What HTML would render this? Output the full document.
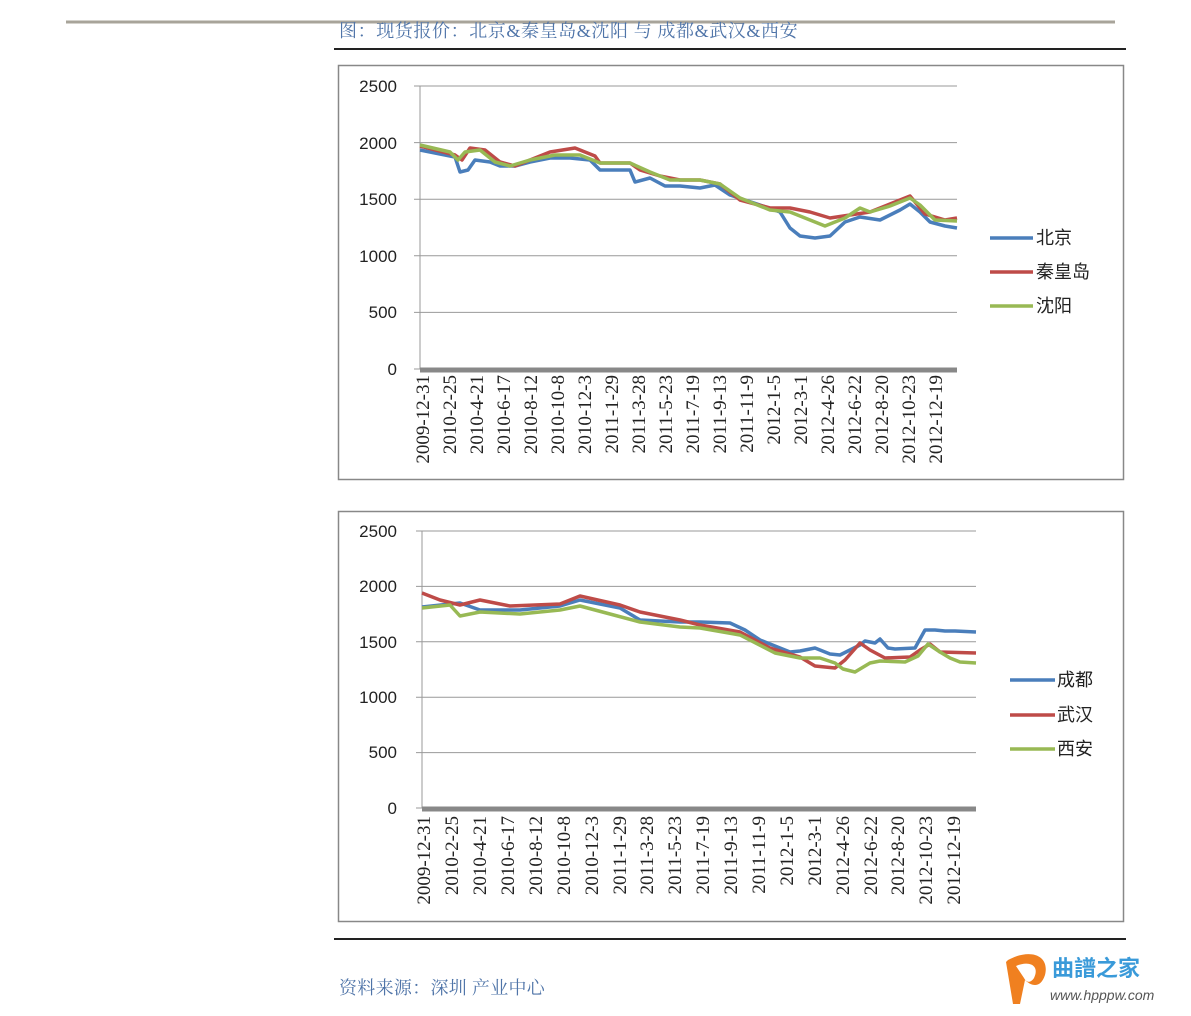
<!DOCTYPE html>
<html><head><meta charset="utf-8"><style>
html,body{margin:0;padding:0;background:#fff;}
body{width:1191px;height:1016px;position:relative;overflow:hidden;}
svg{position:absolute;left:0;top:0;}
</style></head><body>
<svg width="1191" height="1016" viewBox="0 0 1191 1016" xmlns="http://www.w3.org/2000/svg">
<!-- header -->
<line x1="66" y1="22" x2="1115" y2="22" stroke="#a8a49a" stroke-width="3"/>
<text x="339" y="37" font-family="Liberation Serif,'Noto Serif CJK SC',serif" font-size="18" letter-spacing="0.6" fill="#4f74a8">图：现货报价：北京&amp;秦皇岛&amp;沈阳  与  成都&amp;武汉&amp;西安</text>
<line x1="334" y1="49" x2="1126" y2="49" stroke="#222" stroke-width="2"/>

<!-- chart 1 -->
<rect x="338.5" y="65.5" width="785" height="414" fill="#fff" stroke="#888" stroke-width="1.5"/>
<g stroke="#999" stroke-width="1">
<line x1="414" y1="86" x2="957" y2="86"/><line x1="414" y1="142.6" x2="957" y2="142.6"/>
<line x1="414" y1="199.2" x2="957" y2="199.2"/><line x1="414" y1="255.8" x2="957" y2="255.8"/>
<line x1="414" y1="312.4" x2="957" y2="312.4"/><line x1="414" y1="369" x2="420" y2="369"/>
<line x1="420" y1="86" x2="420" y2="369"/>
</g>
<line x1="420" y1="370" x2="957" y2="370" stroke="#888" stroke-width="5"/>
<g font-family="Liberation Sans,sans-serif" font-size="17" fill="#222" text-anchor="end">
<text x="397" y="92">2500</text><text x="397" y="149">2000</text><text x="397" y="205">1500</text>
<text x="397" y="262">1000</text><text x="397" y="318">500</text><text x="397" y="375">0</text>
</g>
<g fill="none" stroke-width="3.5" stroke-linejoin="round">
<polyline stroke="#4a7ebb" points="420,150 455,157 460,172 468,170 475,160 490,162 500,166 515,166 530,162 550,158 570,158 590,160 600,170 630,170 635,182 650,178 665,186 680,186 700,188 715,185 730,195 760,205 780,212 790,228 800,236 815,238 830,236 845,222 860,217 880,220 900,210 910,204 920,212 930,222 945,226 957,228"/>
<polyline stroke="#be4b48" points="420,146 455,155 462,160 470,148 485,150 500,162 515,166 530,160 550,152 575,148 595,156 600,163 630,163 640,170 660,176 680,180 700,180 720,184 740,200 770,208 790,208 810,212 830,218 850,215 870,212 890,204 910,196 925,214 945,220 957,218"/>
<polyline stroke="#98b954" points="420,145 450,152 458,160 465,152 480,150 495,162 510,166 530,160 555,155 580,155 600,163 630,163 650,172 670,180 700,180 720,184 740,198 770,210 790,212 810,220 825,226 845,218 860,208 870,212 890,206 910,198 920,205 935,220 957,221"/>
</g>
<g stroke-width="3.5">
<line x1="990" y1="238" x2="1033" y2="238" stroke="#4a7ebb"/>
<line x1="990" y1="272" x2="1033" y2="272" stroke="#be4b48"/>
<line x1="990" y1="306" x2="1033" y2="306" stroke="#98b954"/>
</g>
<g font-family="Liberation Sans,'Noto Sans CJK SC',sans-serif" font-size="18" fill="#222">
<text x="1036" y="244">北京</text><text x="1036" y="278">秦皇岛</text><text x="1036" y="312">沈阳</text>
</g>
<g font-family="Liberation Serif,serif" font-size="19" fill="#222" text-anchor="end">
<text transform="translate(429,375) rotate(-90)">2009-12-31</text>
<text transform="translate(456,375) rotate(-90)">2010-2-25</text>
<text transform="translate(483,375) rotate(-90)">2010-4-21</text>
<text transform="translate(510,375) rotate(-90)">2010-6-17</text>
<text transform="translate(537,375) rotate(-90)">2010-8-12</text>
<text transform="translate(564,375) rotate(-90)">2010-10-8</text>
<text transform="translate(591,375) rotate(-90)">2010-12-3</text>
<text transform="translate(618,375) rotate(-90)">2011-1-29</text>
<text transform="translate(645,375) rotate(-90)">2011-3-28</text>
<text transform="translate(672,375) rotate(-90)">2011-5-23</text>
<text transform="translate(699,375) rotate(-90)">2011-7-19</text>
<text transform="translate(726,375) rotate(-90)">2011-9-13</text>
<text transform="translate(753,375) rotate(-90)">2011-11-9</text>
<text transform="translate(780,375) rotate(-90)">2012-1-5</text>
<text transform="translate(807,375) rotate(-90)">2012-3-1</text>
<text transform="translate(834,375) rotate(-90)">2012-4-26</text>
<text transform="translate(861,375) rotate(-90)">2012-6-22</text>
<text transform="translate(888,375) rotate(-90)">2012-8-20</text>
<text transform="translate(915,375) rotate(-90)">2012-10-23</text>
<text transform="translate(942,375) rotate(-90)">2012-12-19</text>
</g>

<!-- chart 2 -->
<rect x="338.5" y="511.5" width="785" height="410" fill="#fff" stroke="#888" stroke-width="1.5"/>
<g stroke="#999" stroke-width="1">
<line x1="416" y1="531" x2="976" y2="531"/><line x1="416" y1="586.4" x2="976" y2="586.4"/>
<line x1="416" y1="641.8" x2="976" y2="641.8"/><line x1="416" y1="697.2" x2="976" y2="697.2"/>
<line x1="416" y1="752.6" x2="976" y2="752.6"/><line x1="416" y1="808" x2="422" y2="808"/>
<line x1="422" y1="531" x2="422" y2="808"/>
</g>
<line x1="422" y1="809" x2="976" y2="809" stroke="#888" stroke-width="5"/>
<g font-family="Liberation Sans,sans-serif" font-size="17" fill="#222" text-anchor="end">
<text x="397" y="537">2500</text><text x="397" y="592">2000</text><text x="397" y="648">1500</text>
<text x="397" y="703">1000</text><text x="397" y="758">500</text><text x="397" y="814">0</text>
</g>
<g fill="none" stroke-width="3.5" stroke-linejoin="round">
<polyline stroke="#4a7ebb" points="422,607 460,603 480,610 520,610 560,606 580,600 620,608 640,620 680,622 700,622 730,623 745,630 760,640 765,642 790,652 800,651 815,648 830,654 840,655 860,645 865,641 875,643 880,639 888,648 895,649 915,648 925,630 935,630 945,631 955,631 976,632"/>
<polyline stroke="#be4b48" points="422,593 440,600 460,605 480,600 510,606 560,604 580,596 620,605 640,612 680,620 700,625 740,632 770,648 800,657 815,666 835,668 845,660 860,643 870,650 885,658 910,657 920,650 930,644 940,652 976,653"/>
<polyline stroke="#98b954" points="422,608 450,605 460,616 480,612 520,614 560,610 580,606 610,614 640,622 680,627 700,628 740,635 775,653 800,658 820,658 835,663 843,669 855,672 870,663 880,661 905,662 918,656 928,644 940,652 950,658 960,662 976,663"/>
</g>
<g stroke-width="3.5">
<line x1="1010" y1="680" x2="1055" y2="680" stroke="#4a7ebb"/>
<line x1="1010" y1="715" x2="1055" y2="715" stroke="#be4b48"/>
<line x1="1010" y1="749" x2="1055" y2="749" stroke="#98b954"/>
</g>
<g font-family="Liberation Sans,'Noto Sans CJK SC',sans-serif" font-size="18" fill="#222">
<text x="1057" y="686">成都</text><text x="1057" y="721">武汉</text><text x="1057" y="755">西安</text>
</g>
<g font-family="Liberation Serif,serif" font-size="19" fill="#222" text-anchor="end">
<text transform="translate(430,816) rotate(-90)">2009-12-31</text>
<text transform="translate(458,816) rotate(-90)">2010-2-25</text>
<text transform="translate(486,816) rotate(-90)">2010-4-21</text>
<text transform="translate(514,816) rotate(-90)">2010-6-17</text>
<text transform="translate(542,816) rotate(-90)">2010-8-12</text>
<text transform="translate(570,816) rotate(-90)">2010-10-8</text>
<text transform="translate(598,816) rotate(-90)">2010-12-3</text>
<text transform="translate(626,816) rotate(-90)">2011-1-29</text>
<text transform="translate(653,816) rotate(-90)">2011-3-28</text>
<text transform="translate(681,816) rotate(-90)">2011-5-23</text>
<text transform="translate(709,816) rotate(-90)">2011-7-19</text>
<text transform="translate(737,816) rotate(-90)">2011-9-13</text>
<text transform="translate(765,816) rotate(-90)">2011-11-9</text>
<text transform="translate(793,816) rotate(-90)">2012-1-5</text>
<text transform="translate(821,816) rotate(-90)">2012-3-1</text>
<text transform="translate(849,816) rotate(-90)">2012-4-26</text>
<text transform="translate(877,816) rotate(-90)">2012-6-22</text>
<text transform="translate(904,816) rotate(-90)">2012-8-20</text>
<text transform="translate(932,816) rotate(-90)">2012-10-23</text>
<text transform="translate(960,816) rotate(-90)">2012-12-19</text>
</g>

<!-- footer -->
<line x1="334" y1="939" x2="1126" y2="939" stroke="#222" stroke-width="2"/>
<text x="339" y="994" font-family="Liberation Serif,'Noto Serif CJK SC',serif" font-size="18" letter-spacing="0.3" fill="#4f74a8">资料来源：深圳  产业中心</text>
<!-- watermark -->
<path d="M1008,960 C1030,948 1050,955 1045,975 C1040,990 1030,985 1025,980 L1020,1004 L1013,1004 L1006,962 Z" fill="#f08020"/>
<path d="M1016,966 C1030,960 1040,966 1034,978 C1030,984 1026,982 1024,978 Z" fill="#fff"/>
<text x="1052" y="976" font-family="'Noto Sans CJK SC',sans-serif" font-size="22" font-weight="bold" fill="#3a9ad9">曲譜之家</text>
<text x="1050" y="1000" font-family="Liberation Sans,sans-serif" font-size="14" font-style="italic" fill="#555">www.hpppw.com</text>
</svg>
</body></html>
